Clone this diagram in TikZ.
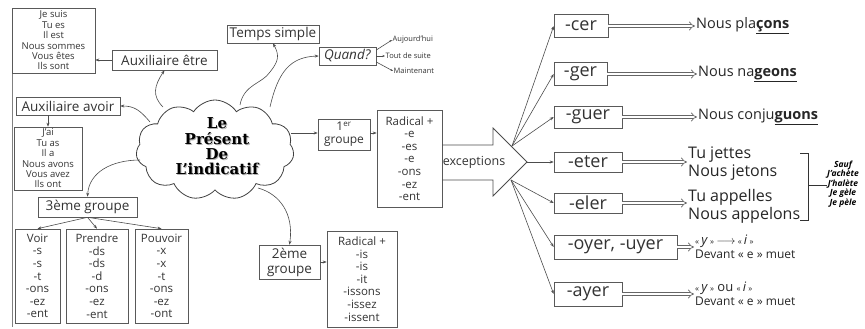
\documentclass[tikz,border=0pt]{standalone}
\usepackage{fontspec}
\setmainfont{Open Sans}
\newfontfamily\cloudfont{DejaVu Serif}
\usetikzlibrary{arrows.meta,shapes.symbols}
\newcommand\mygl{{\fontsize{8}{8}\selectfont«}}
\newcommand\mygr{{\fontsize{8}{8}\selectfont»}}
\begin{document}
\begin{tikzpicture}[x=1pt,y=-1pt,
  box/.style={draw=black!65, line width=0.6pt, inner sep=0pt, align=center, text=black!80},
  tiny/.style={font=\fontsize{7.5}{8}\selectfont, text=black!80, inner sep=0.5pt},
  conj/.style={font=\fontsize{9.5}{10.4}\selectfont},
  term/.style={font=\fontsize{11.5}{12.6}\selectfont},
  lbl/.style={font=\fontsize{13.5}{15}\selectfont},
  ending/.style={font=\fontsize{18}{20}\selectfont},
  res/.style={inner sep=1pt, align=left, text=black!85},
  arr/.style={draw=black!70, line width=0.6pt, -{Stealth[length=4pt,width=3pt]}},
  dbl/.style={draw=black!60, double, double distance=2.4pt, line width=0.7pt, -{Implies}},
]
\useasboundingbox (0,0) rectangle (865,329);
% page border line
\draw[black!50, line width=0.5pt] (12,73) -- (12,327);

% cloud
\node[cloud, draw=black!75, line width=0.8pt, cloud puffs=11, cloud puff arc=115, aspect=1.6,
      minimum width=158, minimum height=100, inner sep=0pt] (cloud) at (215,150) {};
\node[font=\cloudfont\bfseries\fontsize{15}{15.4}\selectfont, align=center, text=black!30] at (218,147.5)
  {Le\\Présent\\De\\L’indicatif};
\node[font=\cloudfont\bfseries\fontsize{15}{15.4}\selectfont, align=center] (title) at (217,146.5)
  {Le\\Présent\\De\\L’indicatif};
\coordinate (cA) at (163,107);
\coordinate (cB) at (150,122);
\coordinate (cC) at (140,160);
\coordinate (cD) at (240,105);
\coordinate (cE) at (270,107);
\coordinate (cF) at (291,133);
\coordinate (cG) at (258,188);

% left part
\node[box, conj, minimum width=83, minimum height=65] (etre) at (53.5,40.5)
  {Je suis\\Tu es\\Il est\\Nous sommes\\Vous êtes\\Ils sont};
\node[box, lbl, minimum width=105, minimum height=20] (auxetre) at (164.5,60) {Auxiliaire être};
\node[box, lbl, minimum width=104, minimum height=18] (auxavoir) at (68,106) {Auxiliaire avoir};
\node[box, conj, minimum width=68, minimum height=63] (avoir) at (48,158.5)
  {J’ai\\Tu as\\Il a\\Nous avons\\Vous avez\\Ils ont};
\node[box, lbl, minimum width=99, minimum height=20] (g3) at (87.5,207) {3ème groupe};
\node[box, term, minimum width=45, minimum height=94] (voir) at (37.5,276)
  {Voir\\-s\\-s\\-t\\-ons\\-ez\\-ent};
\node[box, term, minimum width=62, minimum height=94] (prendre) at (97,276)
  {Prendre\\-ds\\-ds\\-d\\-ons\\-ez\\-ent};
\node[box, term, minimum width=53, minimum height=94] (pouvoir) at (161.5,276)
  {Pouvoir\\-x\\-x\\-t\\-ons\\-ez\\-ont};

\draw[arr] (auxetre.west) -- (etre.east |- auxetre.west);
\draw[arr] (cA) .. controls (152,96) and (154,86) .. (auxetre.south);
\draw[arr] (cB) .. controls (140,110) and (134,106) .. (auxavoir.east);
\draw[arr] (auxavoir.south -| avoir.north) -- (avoir.north);
\draw[arr] (cC) .. controls (112,160) and (89,172) .. (g3.north);
\draw[arr] (g3.south) -- (voir.north);
\draw[arr] (g3.south) -- (prendre.north);
\draw[arr] (g3.south) -- (pouvoir.north);

% top middle
\node[box, lbl, minimum width=92, minimum height=18] (temps) at (273,34) {Temps simple};
\node[box, lbl, minimum width=57, minimum height=18] (quand) at (347.5,56) {\textit{Quand?}};
\node[tiny, anchor=west] (auj) at (392,40) {Aujourd’hui};
\node[tiny, anchor=west] (tds) at (385,56) {Tout de suite};
\node[tiny, anchor=west] (maint) at (393,71) {Maintenant};
\draw[arr] (cD) .. controls (244,84) and (262,84) .. (270,72) .. controls (278,62) and (280,56) .. (temps.south);
\draw[arr] (cE) .. controls (278,72) and (290,57) .. (quand.west);
\draw[arr, -{Stealth[length=2.5pt,width=2pt]}] (quand.east) ++(0,-6) -- (auj.west);
\draw[arr, -{Stealth[length=2.5pt,width=2pt]}] (quand.east) -- (tds.west);
\draw[arr, -{Stealth[length=2.5pt,width=2pt]}] (quand.east) ++(0,6) -- (maint.west);

% 1er groupe
\node[box, font=\fontsize{12}{13}\selectfont, minimum width=52, minimum height=31] (g1) at (344,134.5) {1\textsuperscript{er}\\groupe};
\node[box, term, minimum width=65, minimum height=97] (rad1) at (409.5,158.5)
  {Radical +\\-e\\-es\\-e\\-ons\\-ez\\-ent};
\draw[arr] (cF) -- (g1.west |- cF);
\draw[arr] (g1.east |- cF) -- (rad1.west |- cF);

% 2eme groupe
\node[box, lbl, minimum width=61, minimum height=34] (g2) at (289.5,262) {2ème\\groupe};
\node[box, term, minimum width=70, minimum height=96] (rad2) at (362,279)
  {Radical +\\-is\\-is\\-it\\-issons\\-issez\\-issent};
\draw[arr] (cG) .. controls (280,194) and (294,214) .. (g2.north);
\draw[arr] (g2.east) -- (rad2.west |- g2.east);

% big arrow
\coordinate (sa) at (442,145);
\coordinate (sb) at (493,145);
\coordinate (ha) at (493,128);
\coordinate (tip) at (527,162);
\coordinate (hb) at (493,196);
\coordinate (sc) at (493,180);
\coordinate (sd) at (442,180);
\draw[black!70, line width=0.8pt, line join=miter] (sa) -- (sb) -- (ha) -- (tip) -- (hb) -- (sc) -- (sd);
\node[font=\fontsize{12.5}{14}\selectfont, text=black!80] (exc) at (474,162) {exceptions};
\coordinate (fu) at (512,146);
\coordinate (fl) at (511,180);

% endings
\node[box, ending, minimum width=54, minimum height=23] (cer) at (581,26) {-cer};
\node[box, ending, minimum width=53, minimum height=23] (ger) at (580.5,74) {-ger};
\node[box, ending, minimum width=68, minimum height=22] (guer) at (588,117) {-guer};
\node[box, ending, minimum width=68, minimum height=20] (eter) at (588,162) {-eter};
\node[box, ending, minimum width=68, minimum height=20] (eler) at (588,203) {-eler};
\node[box, ending, minimum width=123, minimum height=24] (oyer) at (615.5,247) {-oyer, -uyer};
\node[box, ending, minimum width=68, minimum height=24] (ayer) at (588,294) {-ayer};

\draw[arr] (fu) -- (cer.west);
\draw[arr] (fu) -- (ger.west);
\draw[arr] (fu) -- (guer.west);
\draw[arr] (tip) -- (eter.west);
\draw[arr] (fl) -- (eler.west);
\draw[arr] (fl) -- (oyer.west);
\draw[arr] (fl) -- (ayer.west);

% results
\node[res, anchor=west, font=\fontsize{14.5}{16}\selectfont] (placons) at (695,26) {Nous pla\underline{\textbf{çons}}};
\node[res, anchor=west, font=\fontsize{14.5}{16}\selectfont] (nageons) at (697,74) {Nous na\underline{\textbf{geons}}};
\node[res, anchor=west, font=\fontsize{14.5}{16}\selectfont] (conj) at (697,117) {Nous conju\underline{\textbf{guons}}};
\node[res, anchor=west, font=\fontsize{16}{18}\selectfont] (jettes) at (687,164) {Tu jettes\\Nous jetons};
\node[res, anchor=west, font=\fontsize{16}{18}\selectfont] (appelles) at (687,206) {Tu appelles\\Nous appelons};
\node[res, anchor=west] (oyres) at (694,247)
  {{\fontsize{13}{13}\selectfont\mygl\,\textit{y}\,\mygr\,$\longrightarrow$\,\mygl\,\textit{i}\,\mygr}\\[1.5pt]{\fontsize{12}{12}\selectfont Devant « e » muet}};
\node[res, anchor=west] (ayres) at (694,294)
  {{\fontsize{13}{13}\selectfont\mygl\,\textit{y}\,\mygr{} ou \mygl\,\textit{i}\,\mygr}\\[1.5pt]{\fontsize{12}{12}\selectfont Devant « e » muet}};

\draw[dbl] (cer.east) -- (placons.west);
\draw[dbl] (ger.east) -- (nageons.west);
\draw[dbl] (guer.east) -- (conj.west);
\draw[dbl] (eter.east) -- (eter.east -| jettes.west);
\draw[dbl] (eler.east) -- (eler.east -| appelles.west);
\draw[dbl] (oyer.east) -- (oyres.west);
\draw[dbl] (ayer.east) -- (ayres.west);

% bracket and exceptions
\coordinate (bt) at (808,153);
\coordinate (bb) at (808,220);
\draw[black!80, line width=0.8pt] (800,153) -- (bt) -- (bb) -- (800,220);
\node[font=\fontsize{8.5}{9.6}\selectfont\bfseries\itshape, align=center, inner sep=0pt] (sauf) at (843,184)
  {Sauf\\J’achète\\J’halète\\Je gèle\\Je pèle};
\draw[black!80, line width=0.8pt] (808,185) -- (sauf.west |- 0,185);
\end{tikzpicture}
\end{document}
